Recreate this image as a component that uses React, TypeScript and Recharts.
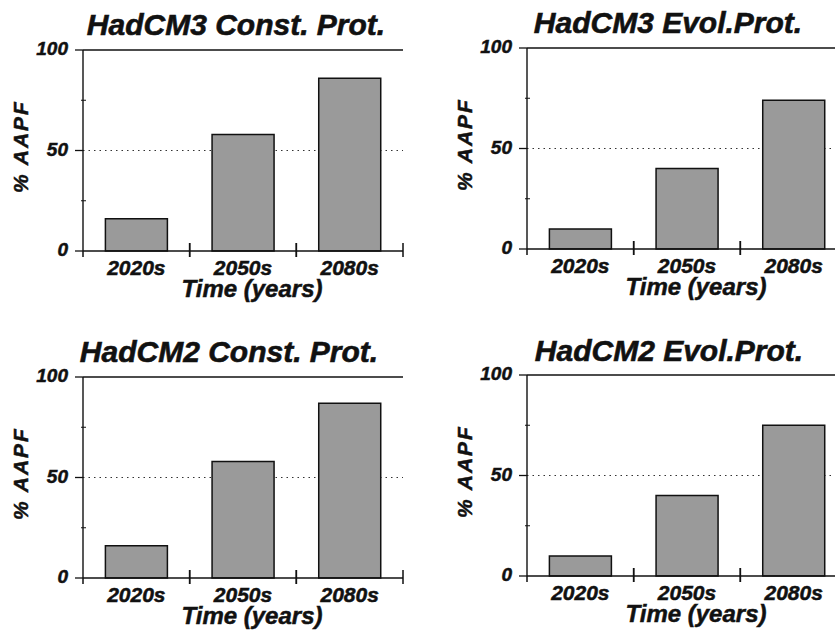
import React from 'react';
import { BarChart, Bar, XAxis, YAxis, CartesianGrid, ReferenceLine } from 'recharts';

// ---- data ----
const categories = ['2020s', '2050s', '2080s'];
const hadcm3Const = [16, 58, 86];
const hadcm3Evol = [10, 40, 74];
const hadcm2Const = [16, 58, 87];
const hadcm2Evol = [10, 40, 75];
const yTicks = [0, 25, 50, 75, 100];
const yLabelTicks = [0, 50, 100];
const titles = ['HadCM3 Const. Prot.', 'HadCM3 Evol.Prot.', 'HadCM2 Const. Prot.', 'HadCM2 Evol.Prot.'];
const xAxisTitle = 'Time (years)';
const yAxisTitle = '% AAPF';

const FONT = '"Liberation Sans", Arial, Helvetica, sans-serif';
const INK = '#111';

const textStyle = (size: number): React.CSSProperties => ({
  fontFamily: FONT,
  fontWeight: 'bold',
  fontStyle: 'italic',
  fontSize: size,
  fill: INK,
  stroke: INK,
  strokeWidth: 0.5,
});

const XTick = (props: any) => {
  const { x, y, payload } = props;
  const half = payload && payload.offset ? payload.offset : 53.3;
  const isFirst = payload.value === categories[0];
  return (
    <g>
      <text x={x} y={y + 24} textAnchor="middle" style={textStyle(21)}>
        {payload.value}
      </text>
      <path
        d={`M${x - half},${isFirst ? y : y - 8}V${y + 6}M${x + half},${y - 8}V${y + 6}`}
        stroke={INK}
        strokeWidth={1.5}
        fill="none"
      />
    </g>
  );
};

const YTick = (props: any) => {
  const { x, y, payload } = props;
  const major = yLabelTicks.includes(payload.value);
  return (
    <g>
      <path
        d={major ? `M${x - 8},${y}H${x}` : `M${x - 2},${y}H${x + 3}`}
        stroke={INK}
        strokeWidth={major ? 1.3 : 1}
        fill="none"
      />
      {major && (
        <text x={x - 15} y={y + 5} textAnchor="end" style={textStyle(19)}>
          {payload.value}
        </text>
      )}
    </g>
  );
};

const XLabel = (props: any) => {
  const vb = props.viewBox || {};
  const cx = vb.x + vb.width / 2 + 9;
  return (
    <text x={cx} y={vb.y + 46} textAnchor="middle" style={textStyle(24)}>
      {xAxisTitle}
    </text>
  );
};

const YLabel = (props: any) => {
  const vb = props.viewBox || {};
  const axisX = vb.x + vb.width;
  const bx = axisX - 55;
  const cy = vb.y + vb.height / 2 - 4;
  return (
    <text
      x={bx}
      y={cy}
      textAnchor="middle"
      transform={`rotate(-90 ${bx} ${cy})`}
      style={{ ...textStyle(21), letterSpacing: 2 }}
    >
      {yAxisTitle}
    </text>
  );
};

type PanelProps = {
  title: string;
  values: number[];
  plotLeft: number;
  plotTop: number;
  titleX: number;
  titleBaseline: number;
};

function Panel({ title, values, plotLeft, plotTop, titleX, titleBaseline }: PanelProps) {
  const data = categories.map((c, i) => ({ cat: c, v: values[i] }));
  return (
    <>
      <div
        style={{
          position: 'absolute',
          left: titleX - 250,
          width: 500,
          top: titleBaseline - 25.4,
          textAlign: 'center',
          fontFamily: FONT,
          fontWeight: 'bold',
          fontStyle: 'italic',
          fontSize: 30,
          lineHeight: '30px',
          whiteSpace: 'nowrap',
          color: INK,
          WebkitTextStroke: '0.6px #111',
        }}
      >
        {title}
      </div>
      <div style={{ position: 'absolute', left: plotLeft - 83, top: plotTop - 50 }}>
        <BarChart
          width={420}
          height={316}
          data={data}
          margin={{ top: 50, right: 17, bottom: 35, left: 43 }}
          barCategoryGap="21%"
        >
          <CartesianGrid
            horizontal
            vertical={false}
            horizontalValues={[50]}
            stroke="#333"
            strokeDasharray="1.5 4"
          />
          <ReferenceLine y={100} stroke={INK} strokeWidth={1.3} />
          <XAxis
            dataKey="cat"
            height={30}
            tickSize={0}
            tickMargin={0}
            tickLine={false}
            axisLine={{ stroke: INK, strokeWidth: 1.4 }}
            tick={<XTick />}
            interval={0}
            label={<XLabel />}
          />
          <YAxis
            width={40}
            domain={[0, 100]}
            ticks={yTicks}
            interval={0}
            tickSize={0}
            tickMargin={0}
            tickLine={false}
            axisLine={{ stroke: INK, strokeWidth: 1.4 }}
            tick={<YTick />}
            label={<YLabel />}
          />
          <YAxis
            yAxisId="right"
            orientation="right"
            width={0}
            domain={[0, 100]}
            tick={false}
            tickLine={false}
            axisLine={{ stroke: INK, strokeWidth: 1.3 }}
          />
          <Bar dataKey="v" fill="#9a9a9a" stroke={INK} strokeWidth={1.5} isAnimationActive={false} />
        </BarChart>
      </div>
    </>
  );
}

export default function App() {
  return (
    <div
      style={{
        position: 'absolute',
        left: 0,
        top: 0,
        width: 835,
        height: 632,
        overflow: 'hidden',
        background: '#fff',
      }}
    >
      <Panel title={titles[0]} values={hadcm3Const} plotLeft={83} plotTop={50} titleX={236} titleBaseline={35} />
      <Panel title={titles[1]} values={hadcm3Evol} plotLeft={527} plotTop={48} titleX={668} titleBaseline={33} />
      <Panel title={titles[2]} values={hadcm2Const} plotLeft={83} plotTop={377} titleX={229} titleBaseline={362} />
      <Panel title={titles[3]} values={hadcm2Evol} plotLeft={527} plotTop={375} titleX={669} titleBaseline={361} />
    </div>
  );
}
